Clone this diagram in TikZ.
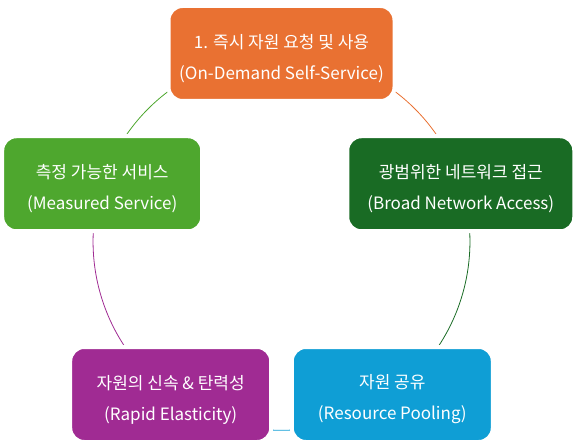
\documentclass[tikz,border=0pt]{standalone}
\usepackage{fontspec}
\setmainfont{Noto Sans CJK KR}
\usetikzlibrary{backgrounds}

\definecolor{cOrange}{HTML}{E97132}
\definecolor{cDarkGreen}{HTML}{196B24}
\definecolor{cBlue}{HTML}{0F9ED5}
\definecolor{cPurple}{HTML}{A02B93}
\definecolor{cGreen}{HTML}{4EA72E}

% strut that pushes the two text lines a little down in a box
\newcommand{\boxstrut}{\rule{0pt}{24pt}}

\tikzset{
  cbox/.style={rectangle, rounded corners=14pt, draw=white, line width=4pt,
    text=white, align=center, minimum height=95pt,
    font=\fontsize{17pt}{31pt}\selectfont},
  link/.style={line width=0.8pt, bend left=36, looseness=0.94}
}

\begin{document}
\begin{tikzpicture}[x=1pt,y=1pt]
    % Fix the page size
    \useasboundingbox (0,0) rectangle (581,-446);

    % Boxes placed on the circle
    \begin{scope}[shift={(281.5,-242)}]
        \node[cbox, fill=cOrange, minimum width=226pt] (ondemand) at (90:188.5)
            {\boxstrut 1. 즉시 자원 요청 및 사용\\(On-Demand Self-Service)};
        \node[cbox, fill=cDarkGreen, minimum width=227pt] (network) at (18:188.5)
            {\boxstrut 광범위한 네트워크 접근\\(Broad Network Access)};
        \node[cbox, fill=cBlue, minimum width=201pt] (pooling) at (-54:188.5)
            {\boxstrut 자원 공유\\(Resource Pooling)};
        \node[cbox, fill=cPurple, minimum width=201pt] (elastic) at (-126:188.5)
            {\boxstrut 자원의 신속 \& 탄력성\\(Rapid Elasticity)};
        \node[cbox, fill=cGreen, minimum width=200pt] (measured) at (162:188.5)
            {\boxstrut 측정 가능한 서비스\\(Measured Service)};
    \end{scope}

    % Arcs of the cycle, behind the boxes
    \begin{scope}[on background layer]
        \draw[link, cOrange] (ondemand.center) to (network.center);
        \draw[link, cDarkGreen] (network.center) to (pooling.center);
        \draw[link, cBlue] (pooling.center) to (elastic.center);
        \draw[link, cPurple] (elastic.center) to (measured.center);
        \draw[link, cGreen] (measured.center) to (ondemand.center);
    \end{scope}
\end{tikzpicture}
\end{document}
